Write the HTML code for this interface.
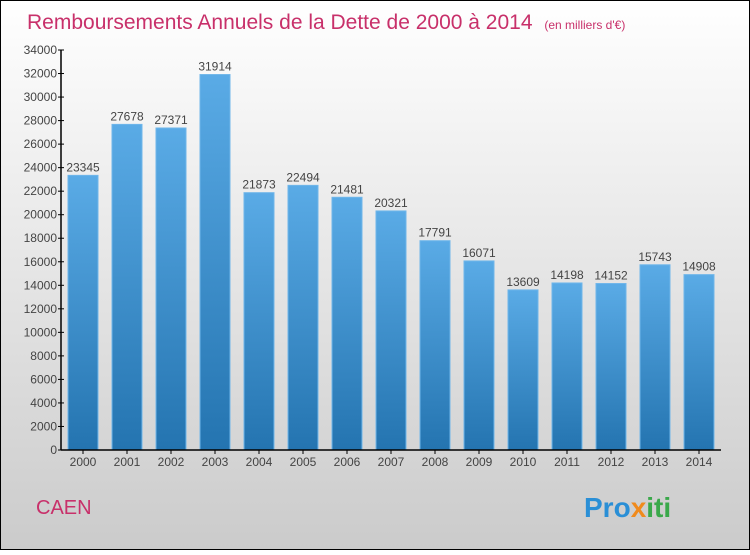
<!DOCTYPE html>
<html><head><meta charset="utf-8"><style>
body{margin:0;width:750px;height:550px;overflow:hidden;font-family:"Liberation Sans",sans-serif}
</style></head><body>
<svg width="750" height="550" xmlns="http://www.w3.org/2000/svg">
<defs>
<linearGradient id="bg" x1="0" y1="0" x2="0" y2="1"><stop offset="0" stop-color="#ffffff"/><stop offset="1" stop-color="#cbcbcb"/></linearGradient>
<linearGradient id="bar" x1="0" y1="0" x2="0" y2="1"><stop offset="0" stop-color="#5aabe6"/><stop offset="1" stop-color="#2474b0"/></linearGradient>
</defs>
<rect x="0.5" y="0.5" width="749" height="549" fill="url(#bg)" stroke="#000"/>
<text x="27" y="29" font-size="21" fill="#c8306a">Remboursements Annuels de la Dette de 2000 à 2014 <tspan font-size="12" dx="6">(en milliers d'€)</tspan></text>
<g id="yaxis"></g>
<g id="bars"></g>
<g id="xaxis"></g>
<text x="36" y="514" font-size="20" fill="#c8306a">CAEN</text>
<text x="584" y="517" font-size="28" font-weight="bold"><tspan fill="#2a8fd6">Pro</tspan><tspan fill="#f08a1c">x</tspan><tspan fill="#3aa84a">iti</tspan></text>
</svg>
<script>
const years=["2000","2001","2002","2003","2004","2005","2006","2007","2008","2009","2010","2011","2012","2013","2014"];
const values=[23345,27678,27371,31914,21873,22494,21481,20321,17791,16071,13609,14198,14152,15743,14908];
const yTicks=[0,2000,4000,6000,8000,10000,12000,14000,16000,18000,20000,22000,24000,26000,28000,30000,32000,34000];
const NS="http://www.w3.org/2000/svg";
const x0=61,x1=721,y0=450,yTop=50,yMax=34000;
const slot=(x1-x0)/years.length;
function yS(v){return y0-(v/yMax)*(y0-yTop);}
function xC(i){return x0+slot*(i+0.5);}
function mk(t,a,p){const e=document.createElementNS(NS,t);for(const k in a)e.setAttribute(k,a[k]);p.appendChild(e);return e;}
const ya=document.getElementById('yaxis'),ba=document.getElementById('bars'),xa=document.getElementById('xaxis');
mk('line',{x1:x0,y1:yTop,x2:x0,y2:y0,stroke:'#000','stroke-width':1.5},ya);
mk('line',{x1:x0,y1:y0,x2:x1,y2:y0,stroke:'#000','stroke-width':1.5},xa);
yTicks.forEach(v=>{
 const y=yS(v);
 const l=mk('line',{x1:x0-3,y1:y,x2:x0+3,y2:y,stroke:'#000'},ya);
 
 
 const t=mk('text',{x:x0-4,y:y+4,'text-anchor':'end','font-size':12,fill:'#444'},ya);
 t.textContent=v;
 
 
});
values.forEach((v,i)=>{
 const c=xC(i),y=yS(v);
 const r=mk('rect',{x:c-15,y:y,width:30,height:y0-y,fill:'url(#bar)',stroke:'#6fb6ea','stroke-width':1},ba);
 
 
 const t=mk('text',{x:c,y:y-4,'text-anchor':'middle','font-size':12,fill:'#444'},ba);
 t.textContent=v;
 
 
 const tk=mk('line',{x1:c,y1:y0,x2:c,y2:y0+4,stroke:'#000'},xa);
 
 
 const xt=mk('text',{x:c,y:y0+16,'text-anchor':'middle','font-size':12,fill:'#444'},xa);
 xt.textContent=years[i];
 
 
});
</script>
</body></html>
